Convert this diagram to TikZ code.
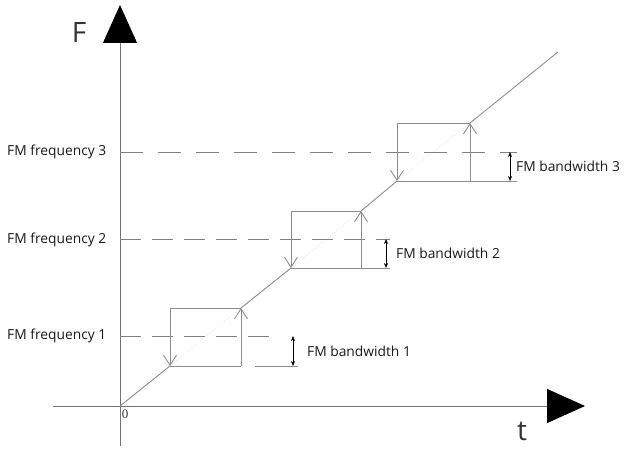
\documentclass[tikz,border=0pt]{standalone}
\usepackage{fontspec}
\setmainfont{Open Sans}
\newfontfamily\zerofont{Liberation Serif}
\usetikzlibrary{arrows.meta}
\begin{document}
\begin{tikzpicture}[x=1pt,y=-1pt,
  axisline/.style={draw=black!55, line width=0.9pt},
  bigtip/.style={-{Triangle[length=38pt,width=34pt,color=black,fill=black]}},
  boxline/.style={draw=black!45, line width=0.9pt},
  diagline/.style={draw=black!45, line width=0.9pt},
  faintdiag/.style={draw=black!12, line width=0.8pt, dotted},
  freqline/.style={draw=black!50, line width=0.9pt, dash pattern=on 21pt off 11pt},
  edgearrow/.style={boxline, -{Straight Barb[length=10pt,width=13pt]}},
  bwarrow/.style={draw=black, line width=0.6pt, {Stealth[length=5pt,width=4pt]}-{Stealth[length=5pt,width=4pt]}},
  lbl/.style={font=\fontsize{13.8}{16}\selectfont, text=black!90, inner sep=0pt},
  biglbl/.style={font=\fontsize{28}{32}\selectfont, text=black!80, inner sep=0pt},
]
\useasboundingbox (0,0) rectangle (626,449);

% axes
\coordinate (ybot) at (120,446);
\coordinate (ytip) at (120,5);
\coordinate (xleft) at (53,406);
\coordinate (xtip) at (585,406);
\coordinate (O) at (120,406);
\draw[axisline, bigtip] (ybot) -- (ytip);
\draw[axisline, bigtip] (xleft) -- (xtip);

% box corners
\coordinate (BL1) at (170,366); \coordinate (TR1) at (241,308);
\coordinate (TL1) at (170,308); \coordinate (BR1) at (241,366);
\coordinate (BL2) at (291,268); \coordinate (TR2) at (361,211);
\coordinate (TL2) at (291,211); \coordinate (BR2) at (361,268);
\coordinate (BL3) at (397,181); \coordinate (TR3) at (470,123);
\coordinate (TL3) at (397,123); \coordinate (BR3) at (470,181);
\coordinate (dend) at (558,52);

% diagonal
\draw[diagline] (O) -- (BL1);
\draw[faintdiag] (BL1) -- (TR1);
\draw[diagline] (TR1) -- (BL2);
\draw[faintdiag] (BL2) -- (TR2);
\draw[diagline] (TR2) -- (BL3);
\draw[faintdiag] (BL3) -- (TR3);
\draw[diagline] (TR3) -- (dend);

% frequency dashed lines
\coordinate (f1s) at (120,336); \coordinate (f1e) at (272,336);
\coordinate (f2s) at (120,239); \coordinate (f2e) at (390,239);
\coordinate (f3s) at (120,152); \coordinate (f3e) at (517,152);
\draw[freqline] (f1s) -- (f1e);
\draw[freqline] (f2s) -- (f2e);
\draw[freqline, dash pattern=on 23pt off 15pt] (f3s) -- (f3e);

% boxes
\foreach \i in {1,2,3}{
  \draw[boxline] (TL\i) -- (TR\i);
  \draw[boxline] (BL\i) -- (BR\i);
  \draw[edgearrow] (TL\i) -- (BL\i);
  \draw[edgearrow] (BR\i) -- (TR\i);
}

% bandwidth extension lines
\coordinate (e1s) at (255,366); \coordinate (e1e) at (298,366);
\coordinate (e2e) at (390,268);
\coordinate (e3e) at (517,181);
\draw[boxline] (e1s) -- (e1e);
\draw[boxline] (BR2) -- (e2e);
\draw[boxline] (BR3) -- (e3e);

% bandwidth arrows
\coordinate (a1t) at (293,336); \coordinate (a1b) at (293,366);
\coordinate (a2t) at (386,239); \coordinate (a2b) at (386,268);
\coordinate (a3t) at (510,152); \coordinate (a3b) at (510,181);
\draw[bwarrow] (a1t) -- (a1b);
\draw[bwarrow] (a2t) -- (a2b);
\draw[bwarrow] (a3t) -- (a3b);

% labels
\node[lbl, anchor=west] (fl3) at (7,152) {FM frequency 3};
\node[lbl, anchor=west] (fl2) at (7,240) {FM frequency 2};
\node[lbl, anchor=west] (fl1) at (7,336) {FM frequency 1};
\node[lbl, anchor=west] (bl1) at (307,351) {FM bandwidth 1};
\node[lbl, anchor=west] (bl2) at (396,253) {FM bandwidth 2};
\node[lbl, anchor=west] (bl3) at (516,166) {FM bandwidth 3};
\node[biglbl] (Flbl) at (79,33) {F};
\node[biglbl] (tlbl) at (522,431) {t};
\node[inner sep=0pt, font=\zerofont\fontsize{13}{15}\selectfont, text=black!80] (zero) at (125,414) {0};
\end{tikzpicture}
\end{document}
